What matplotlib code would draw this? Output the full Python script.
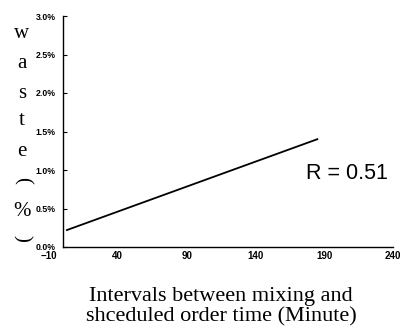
import matplotlib
matplotlib.use("Agg")
import matplotlib.pyplot as plt
import matplotlib.ticker as mticker

# regression line end points (minutes, waste %)
line_x = [3, 185]
line_y = [0.22, 1.40]

x_ticks = [-10, 40, 90, 140, 190, 240]
y_ticks = [0.0, 0.5, 1.0, 1.5, 2.0, 2.5, 3.0]

ylabel_chars = ["w", "a", "s", "t", "e", "(", "%", ")"]
ylabel_ypix = [33, 64, 93, 120, 151, 180, 212, 238]

r_text = "R = 0.51"
xlabel_text = "Intervals between mixing and\nshceduled order time (Minute)"

fig = plt.figure(figsize=(4.0, 3.29), dpi=100)
W, H = 400, 329
ax = fig.add_axes([49 / W, 1 - 247 / H, (393 - 49) / W, (247 - 16) / H])

ax.plot(line_x, line_y, color="black", lw=1.3)

ax.set_xlim(-10, 240)
ax.set_ylim(0, 3.0)
ax.set_xticks(x_ticks)
ax.set_yticks(y_ticks)
ax.yaxis.set_major_formatter(mticker.FuncFormatter(lambda v, p: f"{v:.1f}%"))

ax.spines["top"].set_visible(False)
ax.spines["right"].set_visible(False)
ax.spines["left"].set_position(("data", 0))
ax.spines["bottom"].set_bounds(0, 240)
ax.spines["left"].set_linewidth(1.0)
ax.spines["bottom"].set_linewidth(1.0)

ax.tick_params(axis="y", direction="in", length=3, width=0.8, pad=5)
ax.tick_params(axis="x", length=0, pad=3)
for lab in ax.get_xticklabels():
    lab.set_fontfamily("Liberation Sans")
    lab.set_fontweight("bold")
    lab.set_fontsize(7)
for lab in ax.get_yticklabels():
    lab.set_fontfamily("Liberation Sans")
    lab.set_fontweight("bold")
    lab.set_fontsize(6.3)

ax.text(0.748, 0.32, r_text, transform=ax.transAxes, fontsize=15.5,
        family="Liberation Sans", va="center", ha="left")

for ch, yp in zip(ylabel_chars, ylabel_ypix):
    rot = -90 if ch in "()" else 0
    fig.text(22 / W, 1 - yp / H, ch, fontsize=15, family="Liberation Serif",
             ha="center", va="center", rotation=rot, rotation_mode="anchor")

fig.text(221 / W, 1 - 307 / H, xlabel_text, fontsize=16,
         family="Liberation Serif", ha="center", va="center", linespacing=1.08)

fig.savefig("out.png", dpi=100, facecolor="white")
